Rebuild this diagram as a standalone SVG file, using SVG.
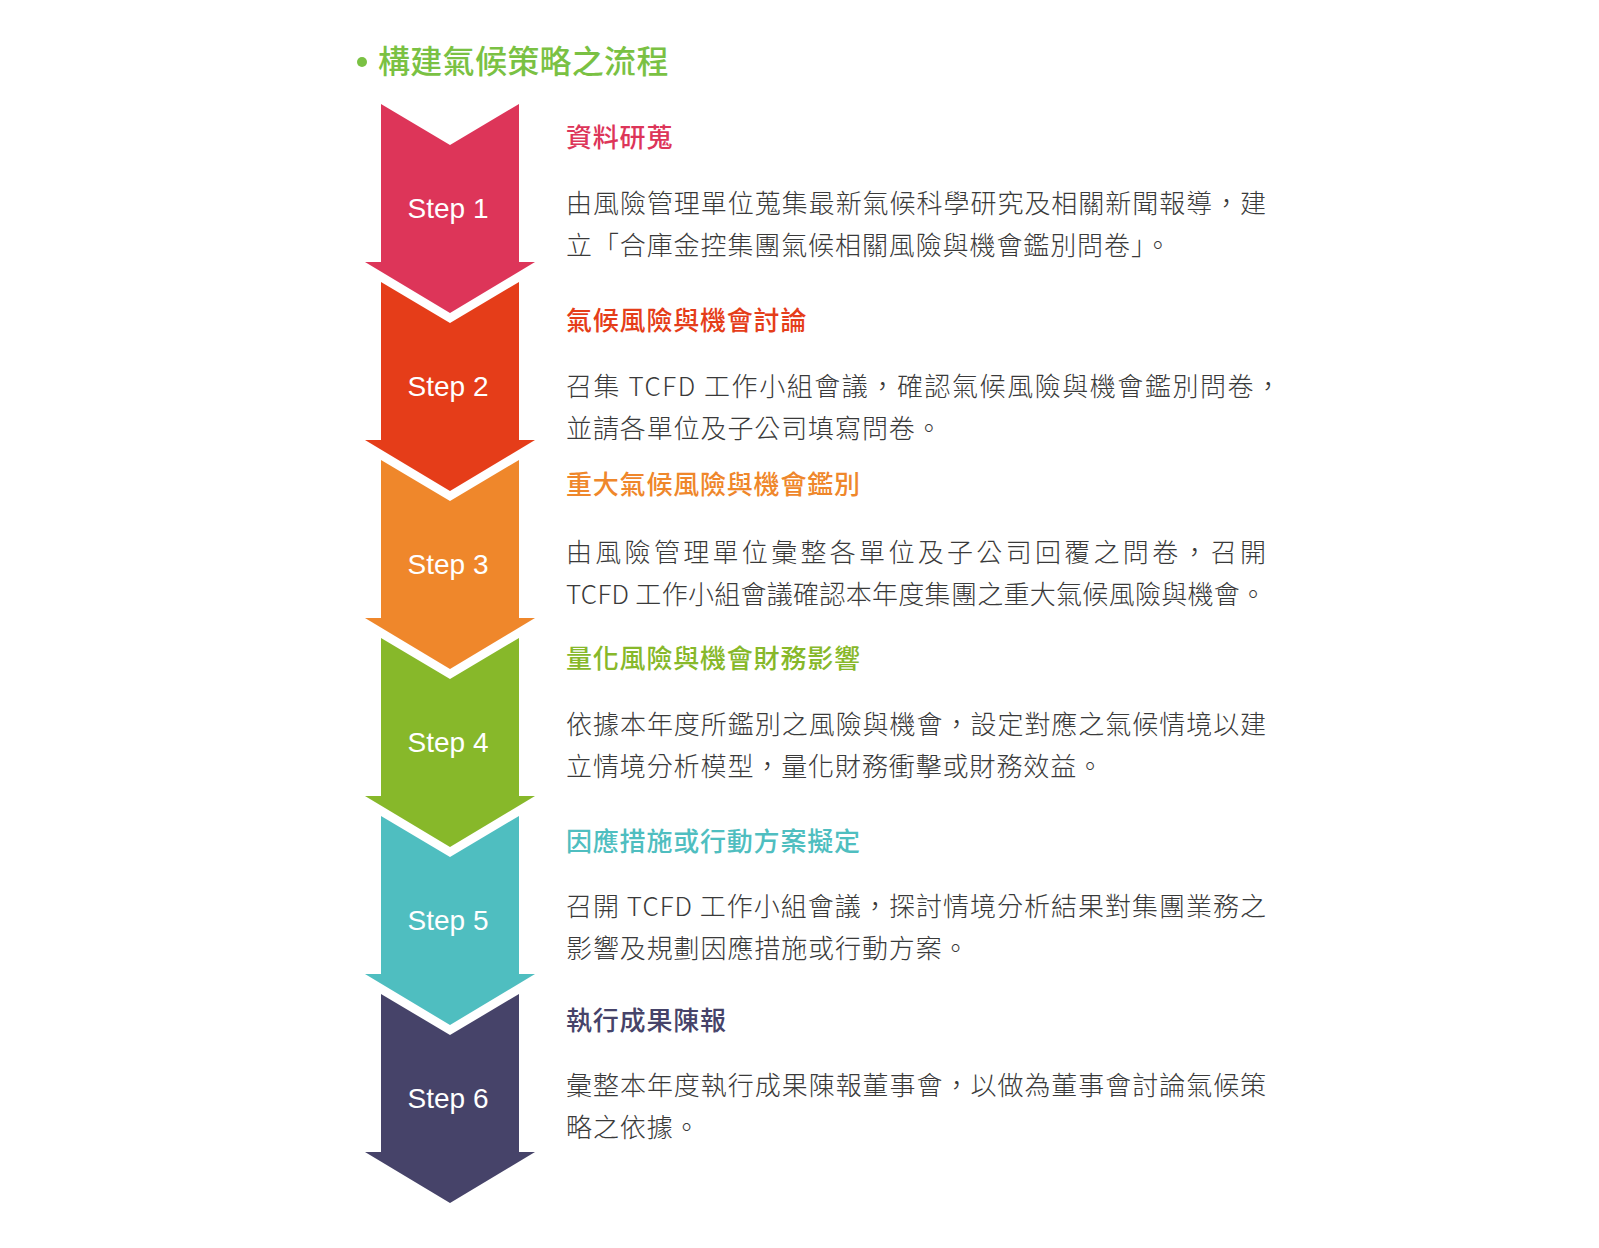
<svg xmlns="http://www.w3.org/2000/svg" xmlns:xlink="http://www.w3.org/1999/xlink" width="1599" height="1248" viewBox="0 0 1599 1248">
<style>
.title{font-family:"Noto Sans CJK TC","Noto Sans CJK SC",sans-serif;font-size:32px;font-weight:500;fill:#7AC143;letter-spacing:0.3px}
.step{font-family:"Liberation Sans",Arial,sans-serif;font-size:28px;fill:#ffffff;text-anchor:middle}
.head{font-family:"Noto Sans CJK TC","Noto Sans CJK SC",sans-serif;font-size:26px;font-weight:500;letter-spacing:0.8px}
.body{font-family:"Noto Sans CJK TC","Noto Sans CJK SC",sans-serif;font-size:26px;font-weight:300;fill:#3a3a3a;letter-spacing:0.9px}
</style>
<defs>
<polygon id="arrow" points="381,0 450,41 519,0 519,158 535,158 450,209 365,158 381,158"/>
</defs>
<rect width="1599" height="1248" fill="#ffffff"/>
<g id="title">
<circle cx="362" cy="62" r="5" fill="#7AC143"/>
<text class="title" x="378" y="73">構建氣候策略之流程</text>
</g>
<g id="step1">
<use xlink:href="#arrow" href="#arrow" transform="translate(0,104)" fill="#DD3559"/>
<text class="step" x="448" y="218">Step 1</text>
<text class="head" x="566" y="147" fill="#DD3559">資料研蒐</text>
<text class="body" x="566" y="213" textLength="701" lengthAdjust="spacing">由風險管理單位蒐集最新氣候科學研究及相關新聞報導，建</text>
<text class="body" x="566" y="255">立「合庫金控集團氣候相關風險與機會鑑別問卷」。</text>
</g>
<g id="step2">
<use xlink:href="#arrow" href="#arrow" transform="translate(0,282)" fill="#E53D19"/>
<text class="step" x="448" y="396">Step 2</text>
<text class="head" x="566" y="330" fill="#E53D19">氣候風險與機會討論</text>
<text class="body" x="566" y="396" textLength="716" lengthAdjust="spacing">召集 TCFD 工作小組會議，確認氣候風險與機會鑑別問卷，</text>
<text class="body" x="566" y="438">並請各單位及子公司填寫問卷。</text>
</g>
<g id="step3">
<use xlink:href="#arrow" href="#arrow" transform="translate(0,460)" fill="#EF872B"/>
<text class="step" x="448" y="574">Step 3</text>
<text class="head" x="566" y="494" fill="#EF872B">重大氣候風險與機會鑑別</text>
<text class="body" x="566" y="562" textLength="701" lengthAdjust="spacing">由風險管理單位彙整各單位及子公司回覆之問卷，召開</text>
<text class="body" x="566" y="604" textLength="701" lengthAdjust="spacing">TCFD 工作小組會議確認本年度集團之重大氣候風險與機會。</text>
</g>
<g id="step4">
<use xlink:href="#arrow" href="#arrow" transform="translate(0,638)" fill="#87B82A"/>
<text class="step" x="448" y="752">Step 4</text>
<text class="head" x="566" y="668" fill="#87B82A">量化風險與機會財務影響</text>
<text class="body" x="566" y="734" textLength="701" lengthAdjust="spacing">依據本年度所鑑別之風險與機會，設定對應之氣候情境以建</text>
<text class="body" x="566" y="776">立情境分析模型，量化財務衝擊或財務效益。</text>
</g>
<g id="step5">
<use xlink:href="#arrow" href="#arrow" transform="translate(0,816)" fill="#4FBEC0"/>
<text class="step" x="448" y="930">Step 5</text>
<text class="head" x="566" y="851" fill="#4FBEC0">因應措施或行動方案擬定</text>
<text class="body" x="566" y="916" textLength="701" lengthAdjust="spacing">召開 TCFD 工作小組會議，探討情境分析結果對集團業務之</text>
<text class="body" x="566" y="958">影響及規劃因應措施或行動方案。</text>
</g>
<g id="step6">
<use xlink:href="#arrow" href="#arrow" transform="translate(0,994)" fill="#464369"/>
<text class="step" x="448" y="1108">Step 6</text>
<text class="head" x="566" y="1030" fill="#464369">執行成果陳報</text>
<text class="body" x="566" y="1095" textLength="701" lengthAdjust="spacing">彙整本年度執行成果陳報董事會，以做為董事會討論氣候策</text>
<text class="body" x="566" y="1137">略之依據。</text>
</g>
</svg>
